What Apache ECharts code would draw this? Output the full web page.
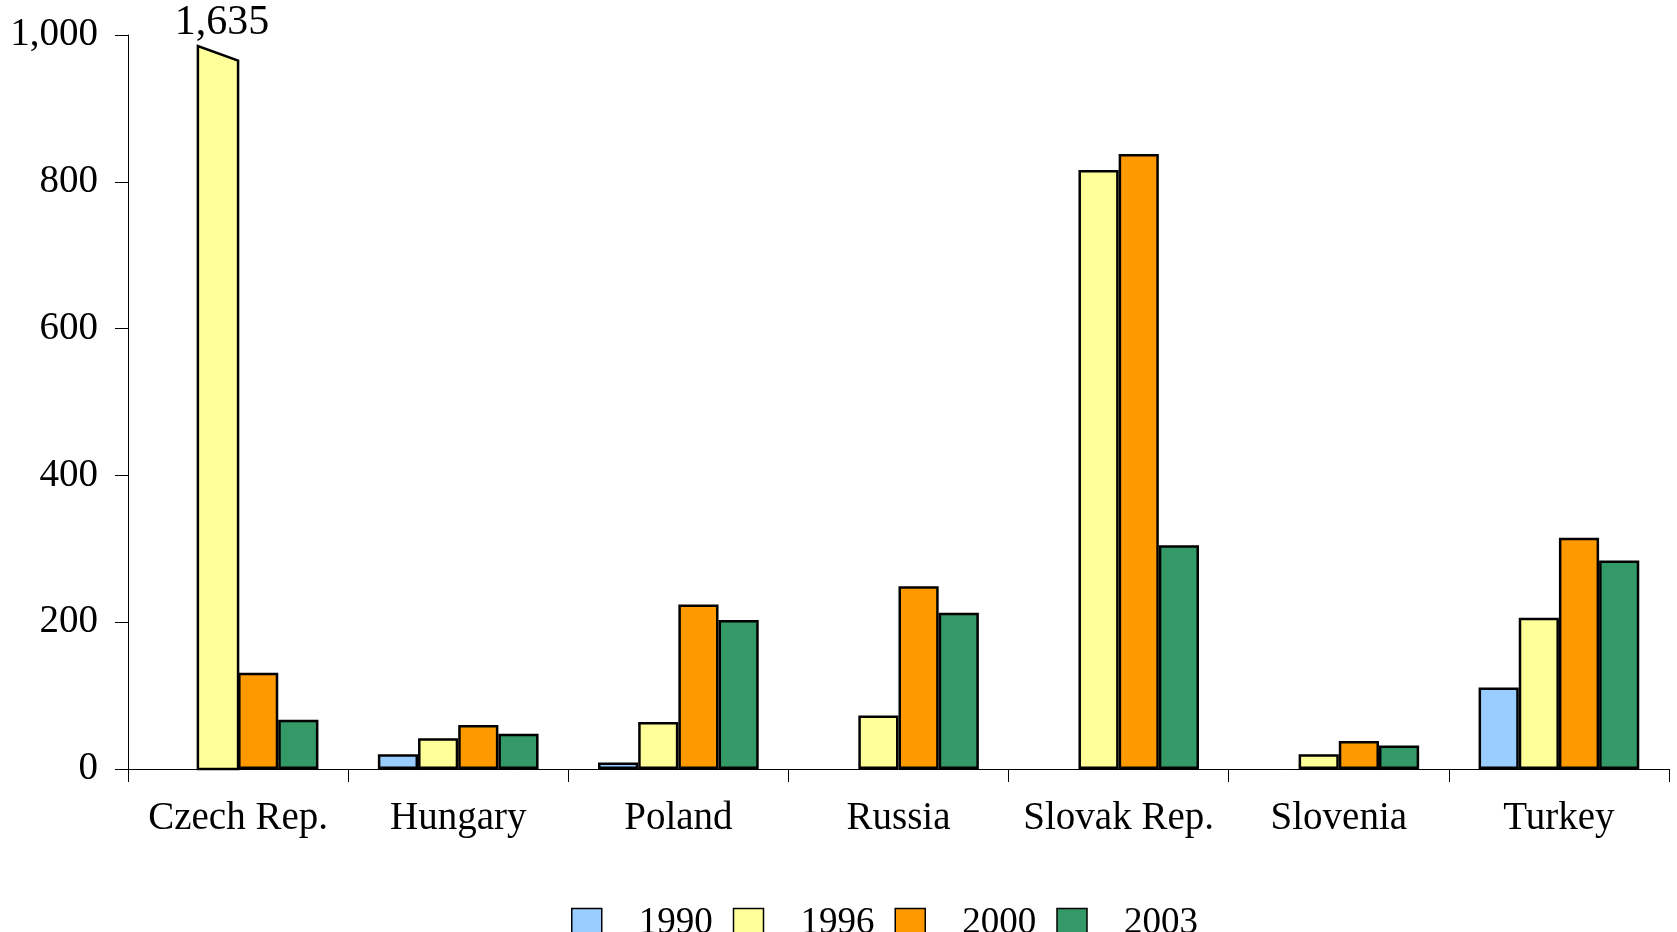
<!DOCTYPE html>
<html>
<head>
<meta charset="utf-8">
<script src="https://cdn.jsdelivr.net/npm/echarts@6/dist/echarts.min.js"></script>
<style>
  html, body { margin: 0; padding: 0; background: #fff; }
  #chart { width: 1677px; height: 932px; }
</style>
</head>
<body>
<div id="chart"></div>
<script>
const categories = ["Czech Rep.", "Hungary", "Poland", "Russia", "Slovak Rep.", "Slovenia", "Turkey"];
const years = ["1990", "1996", "2000", "2003"];
const v1990 = [null, 20, 9, null, null, null, 111];
const v1996 = [1635, 42, 64, 73, 816, 20, 206];
const v2000 = [131, 60, 224, 249, 838, 38, 315];
const v2003 = [67, 48, 203, 213, 305, 32, 284];
const yTicks = [0, 200, 400, 600, 800, 1000];

const colors = ["#99CCFF", "#FFFF99", "#FF9900", "#339966"];
const axisMax = yTicks[yTicks.length - 1];
const catGap = 0.27;
const font = "Liberation Serif";

const myChart = echarts.init(document.getElementById("chart"));

// values above the axis max get drawn as a broken bar by the custom series
function shown(arr) {
  return arr.map(v => (v == null || v > axisMax ? "-" : v));
}
const overflow = [];
v1996.forEach((v, i) => { if (v != null && v > axisMax) overflow.push([i, v]); });

const barSeries = [v1990, v1996, v2000, v2003].map((arr, k) => ({
  name: years[k],
  type: "bar",
  data: shown(arr),
  barGap: 0,
  barCategoryGap: catGap * 100 + "%",
  itemStyle: { color: colors[k], borderColor: "#000", borderWidth: 2.5 }
}));

const option = {
  animation: false,
  textStyle: { fontFamily: font },
  grid: { left: 128, right: 8, top: 35, bottom: 163 },
  legend: {
    data: years,
    left: 566,
    top: 900,
    itemWidth: 30,
    itemHeight: 30,
    itemGap: 20,
    icon: "rect",
    itemStyle: { borderColor: "#000", borderWidth: 1.5 },
    textStyle: { fontFamily: font, fontSize: 37, color: "#000", padding: [0, 0, 0, 32] }
  },
  xAxis: {
    type: "category",
    data: categories,
    axisLine: { lineStyle: { color: "#000", width: 1 } },
    axisTick: { show: true, interval: 0, length: 13, lineStyle: { color: "#000" } },
    axisLabel: { interval: 0, margin: 30, fontSize: 39, color: "#000", fontFamily: font }
  },
  yAxis: {
    type: "value",
    min: 0,
    max: axisMax,
    interval: 200,
    splitLine: { show: false },
    axisLine: { show: true, lineStyle: { color: "#000", width: 1 } },
    axisTick: { show: true, length: 13, lineStyle: { color: "#000" } },
    axisLabel: {
      margin: 30,
      fontSize: 39,
      color: "#000",
      fontFamily: font,
      formatter: v => v.toLocaleString("en-US")
    }
  },
  series: barSeries.concat([{
    name: "break",
    type: "custom",
    data: overflow,
    z: 5,
    renderItem: function (params, api) {
      const i = api.value(0);
      const c = api.coord([i, 0]);
      const band = api.size([1, 0])[0];
      const bw = band * (1 - catGap) / 4;
      const xl = c[0] - bw;
      const xr = c[0];
      const y0 = c[1];
      const yl = api.coord([i, axisMax * 0.985])[1];
      const yr = api.coord([i, axisMax * 0.965])[1];
      const top = api.coord([i, axisMax])[1];
      return {
        type: "group",
        children: [
          {
            type: "polygon",
            shape: { points: [[xl, y0], [xl, yl], [xr, yr], [xr, y0]] },
            style: { fill: colors[1], stroke: "#000", lineWidth: 2.5 }
          },
          {
            type: "text",
            style: {
              x: (xl + xr) / 2 + 4,
              y: top + 9,
              text: api.value(1).toLocaleString("en-US"),
              font: "42px " + font,
              fill: "#000",
              align: "center",
              verticalAlign: "bottom"
            }
          }
        ]
      };
    }
  }])
};

myChart.setOption(option);
window.addEventListener("resize", () => myChart.resize(), false);
</script>
</body>
</html>
